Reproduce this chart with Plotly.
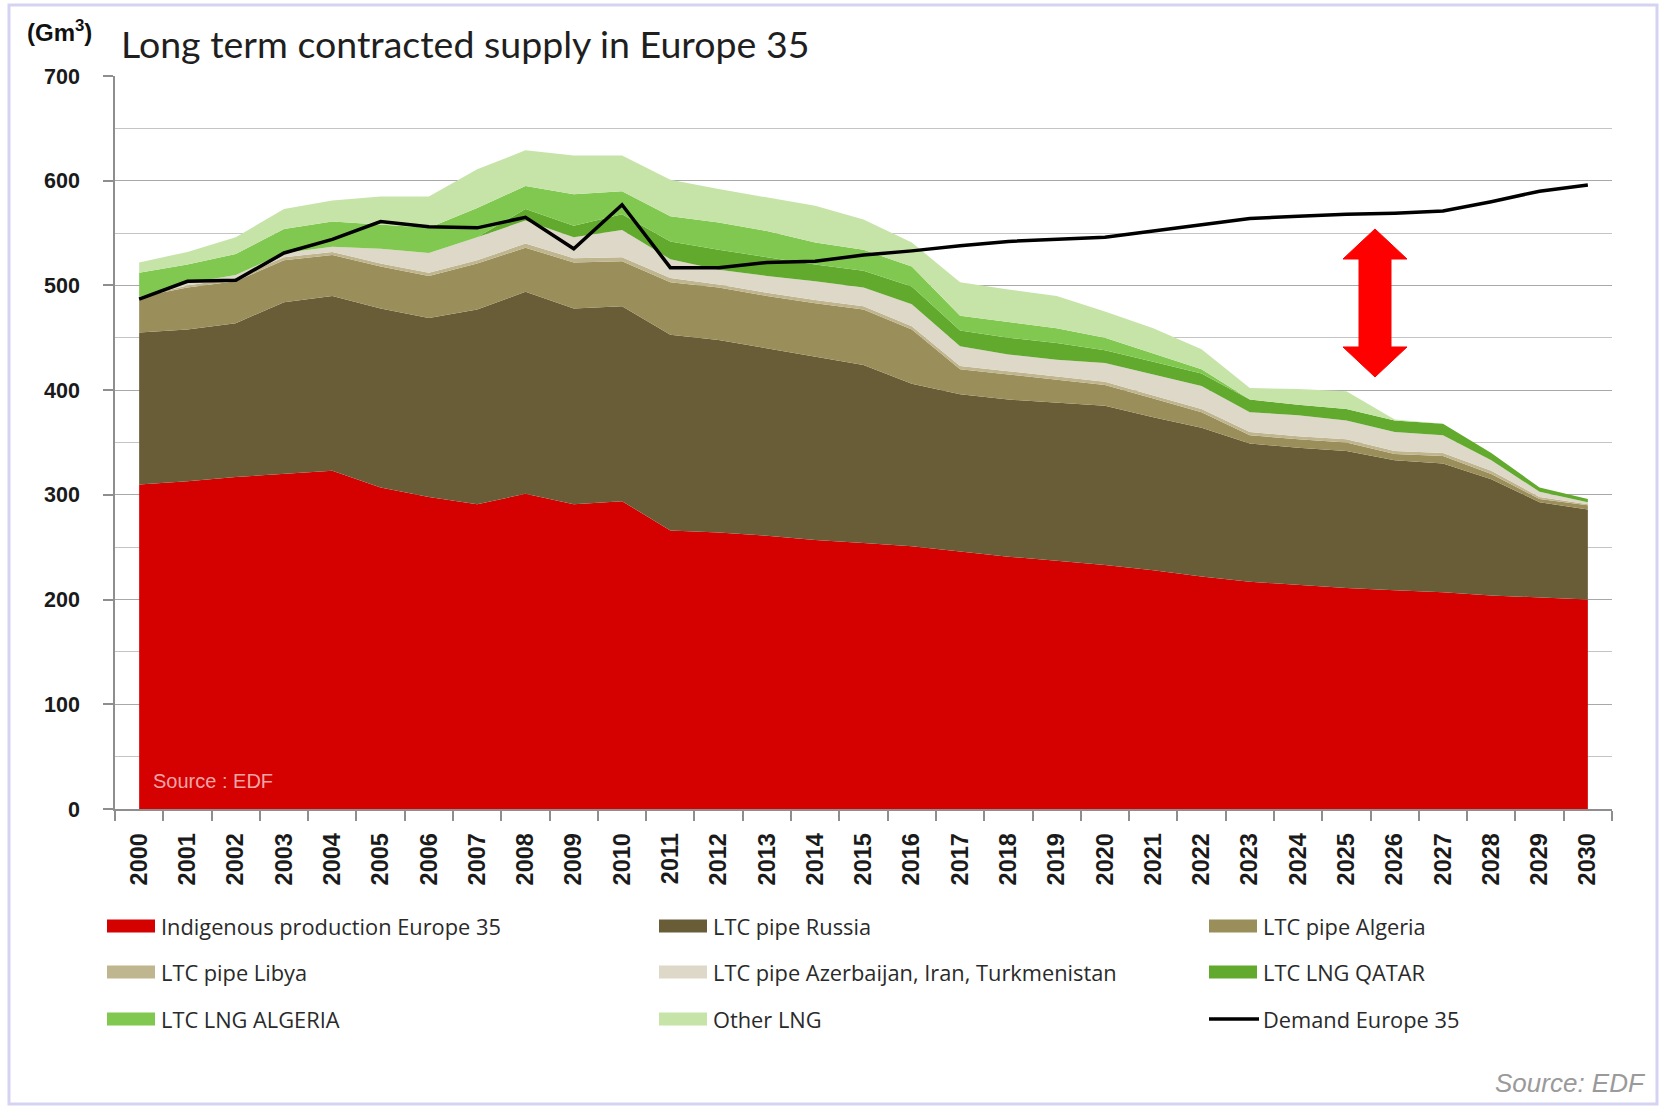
import plotly.graph_objects as go

# ---------------- data ----------------
years = [str(y) for y in range(2000, 2031)]

indigenous = [310, 313, 317, 320, 323, 307, 298, 291, 301, 291, 294, 266, 264, 261, 257, 254,
              251, 246, 241, 237, 233, 228, 222, 217, 214, 211, 209, 207, 204, 202, 200]
ltc_russia = [145, 145, 147, 164, 167, 171, 171, 186, 193, 187, 186, 187, 184, 179, 175, 170,
              155, 150, 150, 151, 152, 146, 142, 132, 131, 131, 124, 123, 111, 91, 86]
ltc_algeria_pipe = [34, 40, 40, 40, 39, 40, 40, 44, 42, 44, 43, 50, 50, 50, 51, 53,
                    52, 24, 24, 22, 20, 18, 15, 8, 8, 8, 6, 7, 5, 3, 4]
ltc_libya = [0, 2, 3, 3, 3, 3, 3, 3, 4, 4, 4, 4, 3, 3, 3, 3,
             3, 3, 3, 3, 3, 3, 3, 3, 3, 3, 3, 3, 3, 2, 1]
ltc_azer = [0, 2, 3, 4, 5, 14, 19, 22, 22, 20, 26, 18, 14, 16, 18, 18,
            21, 19, 16, 16, 18, 20, 22, 19, 20, 18, 18, 17, 10, 5, 2]
ltc_lng_qatar = [0, 0, 0, 0, 0, 0, 0, 0, 11, 11, 15, 17, 19, 18, 16, 16,
                 17, 15, 16, 16, 12, 12, 12, 12, 10, 11, 11, 11, 7, 4, 3]
ltc_lng_algeria = [23, 18, 20, 23, 24, 23, 24, 28, 22, 30, 22, 24, 26, 25, 21, 20,
                   19, 14, 15, 14, 12, 8, 4, 0, 0, 0, 0, 0, 0, 0, 0]
other_lng = [10, 12, 16, 19, 20, 27, 30, 37, 34, 37, 34, 35, 32, 32, 35, 29,
             23, 32, 31, 31, 25, 24, 19, 11, 15, 17, 1, 0, 0, 0, 0]
demand = [487, 504, 505, 531, 544, 561, 556, 555, 565, 535, 577, 517, 517, 522, 523, 529,
          533, 538, 542, 544, 546, 552, 558, 564, 566, 568, 569, 571, 580, 590, 596]

series_names = ["Indigenous production Europe 35", "LTC pipe Russia", "LTC pipe Algeria",
                "LTC pipe Libya", "LTC pipe Azerbaijan, Iran, Turkmenistan", "LTC LNG QATAR",
                "LTC LNG ALGERIA", "Other LNG"]
series_values = [indigenous, ltc_russia, ltc_algeria_pipe, ltc_libya, ltc_azer,
                 ltc_lng_qatar, ltc_lng_algeria, other_lng]
series_colors = ["#D50000", "#695D37", "#9A8E5A", "#BFB58E", "#DDD8C8",
                 "#62AA2E", "#80C850", "#C6E4A8"]
demand_name = "Demand Europe 35"
y_ticks = [0, 100, 200, 300, 400, 500, 600, 700]

# ---------------- geometry (pixels) ----------------
W, H = 1664, 1109
L, R, T, B = 115, 1612, 76, 809


def px(x):
    return (x - L) / (R - L)


def py(y):
    return (B - y) / (B - T)


fig = go.Figure()
for name, vals, col in zip(series_names, series_values, series_colors):
    fig.add_trace(go.Scatter(
        x=years, y=vals, name=name, stackgroup="supply", mode="lines",
        line=dict(width=0, color=col), fillcolor=col, showlegend=False,
        hoverinfo="x+y+name"))
fig.add_trace(go.Scatter(
    x=years, y=demand, name=demand_name, mode="lines",
    line=dict(color="#000000", width=3.5), showlegend=False))

axis_gray = "#8E8E8E"
fig.update_xaxes(
    type="category", range=[-0.5, 30.5], tickson="boundaries",
    ticks="outside", ticklen=10, tickcolor=axis_gray, tickwidth=1.5,
    showline=True, linecolor=axis_gray, linewidth=1.5, showgrid=False,
    tickangle=-90, ticklabelstandoff=13,
    tickfont=dict(family="Liberation Sans, Arial", size=23.5, color="#1a1a1a", weight="bold"),
    automargin=False, fixedrange=True)
fig.update_yaxes(
    range=[0, 700], tickvals=y_ticks, ticks="outside", ticklen=10,
    tickcolor=axis_gray, tickwidth=1.5, showline=True, linecolor=axis_gray, linewidth=1.5,
    showgrid=True, gridcolor="#A8A8A8", gridwidth=1.3,
    minor=dict(dtick=50, showgrid=True, gridcolor="#C4C4C4", gridwidth=1.2),
    ticklabelstandoff=19, zeroline=False,
    tickfont=dict(family="Liberation Sans, Arial", size=21.5, color="#1a1a1a", weight="bold"),
    automargin=False, fixedrange=True)

shapes = []
annotations = []

# outer lavender frame
shapes.append(dict(type="rect", xref="paper", yref="paper",
                   x0=px(9), x1=px(1657), y0=py(1104), y1=py(5),
                   line=dict(color="#D4D4F2", width=3), fillcolor="rgba(0,0,0,0)", layer="above"))

# red double arrow (gap between demand and supply)
ax, top, bot = 1375, 229, 377
hw, sw, hh = 32, 16, 30
pts = [(ax, top), (ax + hw, top + hh), (ax + sw, top + hh), (ax + sw, bot - hh),
       (ax + hw, bot - hh), (ax, bot), (ax - hw, bot - hh), (ax - sw, bot - hh),
       (ax - sw, top + hh), (ax - hw, top + hh)]
path = "M " + " L ".join(f"{px(a):.5f},{py(b):.5f}" for a, b in pts) + " Z"
shapes.append(dict(type="path", xref="paper", yref="paper", path=path,
                   fillcolor="#FF0000", line=dict(color="#FF0000", width=1), layer="above"))

# title and unit
annotations.append(dict(text="Long term contracted supply in Europe 35", xref="paper", yref="paper",
                        x=px(119), y=py(44), xanchor="left", yanchor="middle", showarrow=False,
                        font=dict(family="Lato, Open Sans", size=37.5, color="#1f1f1f")))
annotations.append(dict(text="(Gm<sup>3</sup>)", xref="paper", yref="paper",
                        x=px(25), y=py(31), xanchor="left", yanchor="middle", showarrow=False,
                        font=dict(family="Liberation Sans, Arial", size=24, color="#111111",
                                  weight="bold")))
# source inside plot
annotations.append(dict(text="Source : EDF", xref="paper", yref="paper",
                        x=px(151), y=py(781), xanchor="left", yanchor="middle", showarrow=False,
                        font=dict(family="Liberation Sans, Arial", size=20, color="#F2A6A6")))
# source bottom-right
annotations.append(dict(text="<i>Source: EDF</i>", xref="paper", yref="paper",
                        x=px(1648), y=py(1083), xanchor="right", yanchor="middle", showarrow=False,
                        font=dict(family="Liberation Sans, Arial", size=26, color="#9A9A9A")))

# manual legend (3 columns x 3 rows)
col_x = [107, 659, 1209]
row_y = [926, 972, 1019]
legend_items = list(zip(series_names, series_colors)) + [(demand_name, "#000000")]
for k, (name, col) in enumerate(legend_items):
    cx = col_x[k % 3]
    ry = row_y[k // 3]
    if name == demand_name:
        shapes.append(dict(type="line", xref="paper", yref="paper",
                           x0=px(cx), x1=px(cx + 50), y0=py(ry), y1=py(ry),
                           line=dict(color="#000000", width=3.5)))
    else:
        shapes.append(dict(type="rect", xref="paper", yref="paper",
                           x0=px(cx), x1=px(cx + 48), y0=py(ry + 6.5), y1=py(ry - 6.5),
                           fillcolor=col, line=dict(width=0)))
    annotations.append(dict(text=name, xref="paper", yref="paper",
                            x=px(cx + 52), y=py(ry), xanchor="left", yanchor="middle",
                            showarrow=False,
                            font=dict(family="Open Sans, Lato", size=21.8, color="#2a2a2a")))

fig.update_layout(
    width=W, height=H, autosize=False,
    margin=dict(l=L, r=W - R, t=T, b=H - B, pad=0),
    paper_bgcolor="#FFFFFF", plot_bgcolor="#FFFFFF",
    showlegend=False, shapes=shapes, annotations=annotations,
    hovermode="x unified")

fig.write_html("out.html", config={"displayModeBar": False},
               post_script="document.body.style.margin='0';document.body.style.overflow='hidden';")
